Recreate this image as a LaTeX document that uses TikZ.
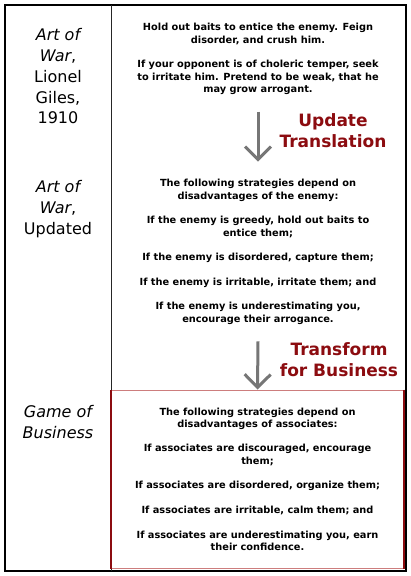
\documentclass[tikz,border=0pt]{standalone}
\usepackage{fontspec}
\setmainfont{DejaVu Sans}
\usetikzlibrary{arrows.meta,positioning}
\definecolor{wine}{RGB}{140,12,16}
\definecolor{rosy}{RGB}{205,125,125}
\definecolor{arrgray}{RGB}{118,118,118}

\begin{document}
\begin{tikzpicture}[
  x=1pt,y=-1pt,
  txt/.style={font=\fontsize{9.8}{12.3}\selectfont\bfseries,align=center,inner sep=0pt},
  lbl/.style={font=\fontsize{16}{20.7}\selectfont,align=center,inner sep=0pt},
  trn/.style={font=\fontsize{17}{21}\selectfont\bfseries,text=wine,align=center,inner sep=0pt},
  ar/.style={-{Straight Barb[length=13pt,width=26pt]},line width=3pt,draw=arrgray}
]
\fill[white] (0,0) rectangle (411,576);
\useasboundingbox (0,0) rectangle (411,576);

% ---- frame and column divider
\draw[line width=2pt] (5,5) rectangle (406,571);
\draw[line width=1pt,black!85] (111.5,5) -- (111.5,571);

% ---- left column : sources
\node[lbl,anchor=north] (lblgiles) at (58,28.6) {{\itshape Art of}\\{\itshape War},\\Lionel\\Giles,\\1910};
\node[lbl,anchor=north] (lblupd) at (58,180.6) {{\itshape Art of}\\{\itshape War},\\Updated};
\node[lbl,anchor=north] (lblbiz) at (58,405.6) {{\itshape Game of}\\{\itshape Business}};

% ---- right column : texts
\node[txt,anchor=north] (giles) at (258,23.2)
 {Hold out baits to entice the enemy. Feign\\disorder, and crush him.\\[12.3pt]
  If your opponent is of choleric temper, seek\\to irritate him. Pretend to be weak, that he\\may grow arrogant.};
\node[txt,anchor=north] (upd) at (258,179.2)
 {The following strategies depend on\\disadvantages of the enemy:\\[12.3pt]
  If the enemy is greedy, hold out baits to\\entice them;\\[12.3pt]
  If the enemy is disordered, capture them;\\[12.3pt]
  If the enemy is irritable, irritate them; and\\[12.3pt]
  If the enemy is underestimating you,\\encourage their arrogance.};
\node[txt,draw=rosy,line width=1pt,minimum width=292pt,minimum height=178pt] (biz) at (257.5,479)
 {The following strategies depend on\\disadvantages of associates:\\[12.3pt]
  If associates are discouraged, encourage\\them;\\[12.3pt]
  If associates are disordered, organize them;\\[12.3pt]
  If associates are irritable, calm them; and\\[12.3pt]
  If associates are underestimating you, earn\\their confidence.};
\draw[wine,line width=2pt] (biz.north west) -- (biz.south west);
\draw[wine,line width=2pt] (biz.north east) -- (biz.south east);

% ---- steps
\node[trn,anchor=north] (tr1) at (333,113.3) {Update\\Translation};
\node[trn,anchor=north] (tr2) at (339,342.3) {Transform\\for Business};
\draw[ar] ([yshift=-17pt]giles.south) -- ([yshift=17.5pt]upd.north);
\draw[ar] ([yshift=-17pt]upd.south) -- (biz.north);
\end{tikzpicture}
\end{document}
